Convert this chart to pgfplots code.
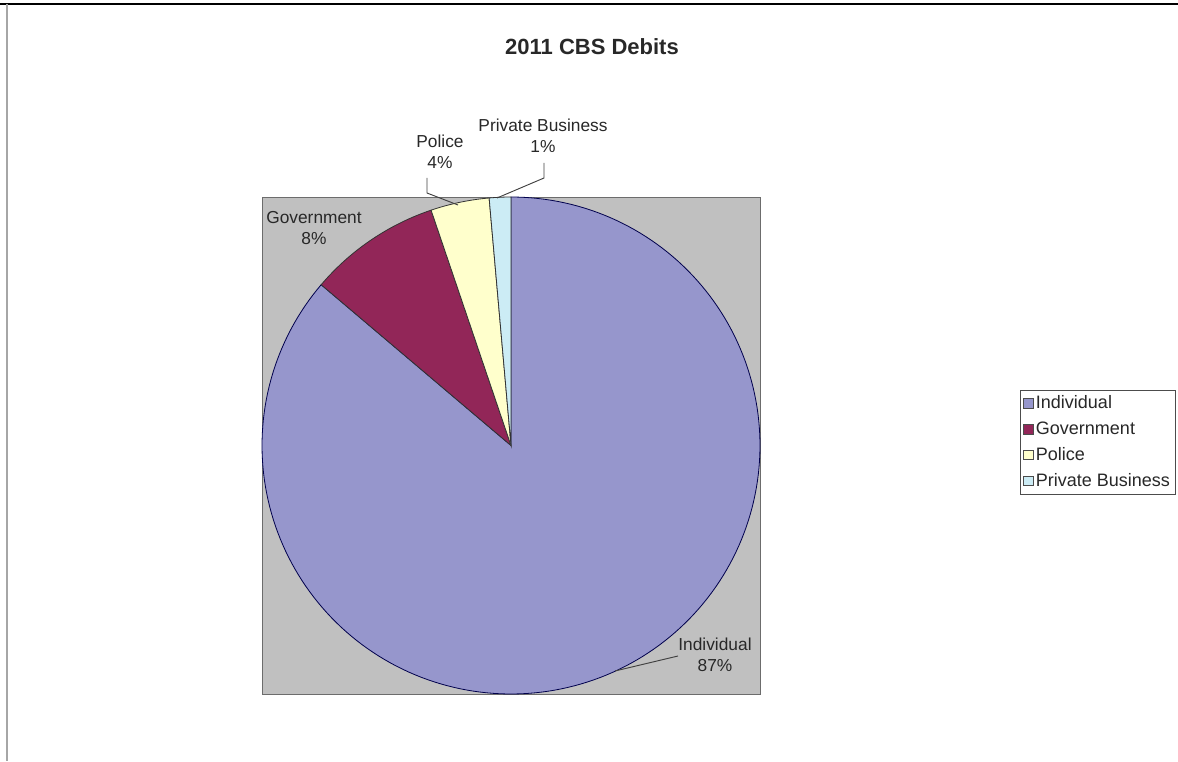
\documentclass[border=0pt]{standalone}
\usepackage{pgfplots}
\pgfplotsset{compat=1.18}
\usepackage{fontspec}
\setmainfont{Liberation Sans}
\definecolor{cInd}{RGB}{150,150,204}
\definecolor{cGov}{RGB}{146,38,88}
\definecolor{cPol}{RGB}{255,255,204}
\definecolor{cPri}{RGB}{204,236,245}
\definecolor{cBg}{RGB}{192,192,192}
\definecolor{cTxt}{RGB}{40,40,40}
% slice values (percent)
\def\valInd{86.2}
\def\valGov{8.6}
\def\valPol{3.8}
\def\valPri{1.4}
\begin{document}%
\begin{tikzpicture}
\pgfmathsetmacro\aP{90+3.6*\valPri}
\pgfmathsetmacro\aQ{\aP+3.6*\valPol}
\pgfmathsetmacro\aG{\aQ+3.6*\valGov}
\useasboundingbox (0,0) rectangle (883.5pt,570.75pt);
\begin{axis}[
  at={(196.5pt,50.25pt)}, anchor=south west,
  scale only axis, width=373.5pt, height=372.75pt,
  xmin=-1, xmax=1, ymin=-1, ymax=1,
  xtick=\empty, ytick=\empty,
  axis line style={draw=gray!85!black, line width=0.6pt},
  axis background/.style={fill=cBg},
  clip=false,
  legend style={at={(1.522,0.6117)}, anchor=north west,
    font=\fontsize{13.5}{16.5}\selectfont, text=cTxt,
    draw=gray!60!black, line width=0.8pt, inner xsep=2pt, inner ysep=2pt,
    row sep=4.3pt},
  legend cell align=left,
  legend image code/.code={\draw[#1, draw=black!70, line width=0.6pt] (0pt,-3.5pt) rectangle (7pt,3.5pt);},
]
\addplot[fill=cInd, draw=blue!30!black, line width=0.6pt, domain=\aG:450, samples=200]
  ({cos(x)},{sin(x)}) -- (axis cs:0,0) -- cycle;
\addlegendentry{Individual}
\addplot[fill=cGov, draw=black!80, line width=0.6pt, domain=\aQ:\aG, samples=30]
  ({cos(x)},{sin(x)}) -- (axis cs:0,0) -- cycle;
\addlegendentry{Government}
\addplot[fill=cPol, draw=black!80, line width=0.6pt, domain=\aP:\aQ, samples=20]
  ({cos(x)},{sin(x)}) -- (axis cs:0,0) -- cycle;
\addlegendentry{Police}
\addplot[fill=cPri, draw=black!80, line width=0.6pt, domain=90:\aP, samples=10]
  ({cos(x)},{sin(x)}) -- (axis cs:0,0) -- cycle;
\addlegendentry{Private Business}
\end{axis}
\begin{scope}[x=0.75pt, y=0.75pt]
  % chart-area frame
  \draw[black, line width=2.2pt] (0,757) -- (1178,757);
  \draw[gray!70, line width=1.2pt] (7,757) -- (7,0);
  % title
  \node[font=\bfseries\fontsize{16.5}{19}\selectfont, text=cTxt] at (592,714) {2011 CBS Debits};
  % data labels
  \node[align=center, font=\fontsize{13}{16}\selectfont, text=cTxt] at (314,533) {Government\\8\%};
  \node[align=center, font=\fontsize{13}{16}\selectfont, text=cTxt] at (440,609) {Police\\4\%};
  \node[align=center, font=\fontsize{13}{16}\selectfont, text=cTxt] at (543,625) {Private Business\\1\%};
  \node[align=center, font=\fontsize{13}{16}\selectfont, text=cTxt] at (715,106) {Individual\\87\%};
  % leader lines
  \draw[black!75, line width=0.7pt] (427,583) -- (427,568) -- (458,556);
  \draw[black!75, line width=0.7pt] (544,598) -- (544,583) -- (497,563);
  \draw[black!75, line width=0.7pt] (615,90) -- (678,105);
\end{scope}
\end{tikzpicture}%
\end{document}
